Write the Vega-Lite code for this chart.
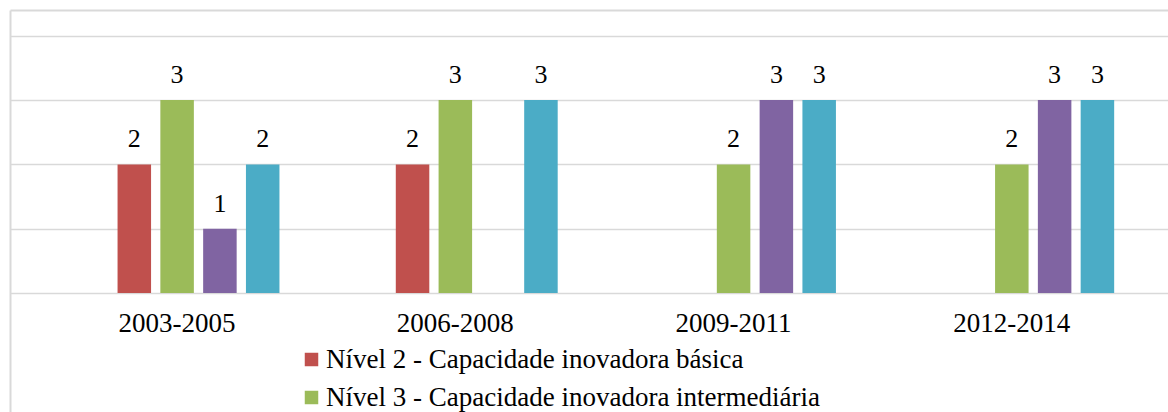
{
  "$schema": "https://vega.github.io/schema/vega-lite/v6.json",
  "width": 1158,
  "height": 402,
  "padding": {"left": 10, "top": 10, "right": 0, "bottom": 0},
  "autosize": {"type": "none"},
  "background": "white",
  "config": {"view": {"stroke": null}, "font": "Liberation Serif"},
  "data": {
    "values": [
      {"periodo": "2003-2005", "nivel": "Nível 2 - Capacidade inovadora básica", "valor": 2},
      {"periodo": "2003-2005", "nivel": "Nível 3 - Capacidade inovadora intermediária", "valor": 3},
      {"periodo": "2003-2005", "nivel": "Nível 4 - Capacidade inovadora avançada", "valor": 1},
      {"periodo": "2003-2005", "nivel": "Nível 5 - Capacidade inovadora plena", "valor": 2},
      {"periodo": "2006-2008", "nivel": "Nível 2 - Capacidade inovadora básica", "valor": 2},
      {"periodo": "2006-2008", "nivel": "Nível 3 - Capacidade inovadora intermediária", "valor": 3},
      {"periodo": "2006-2008", "nivel": "Nível 5 - Capacidade inovadora plena", "valor": 3},
      {"periodo": "2009-2011", "nivel": "Nível 3 - Capacidade inovadora intermediária", "valor": 2},
      {"periodo": "2009-2011", "nivel": "Nível 4 - Capacidade inovadora avançada", "valor": 3},
      {"periodo": "2009-2011", "nivel": "Nível 5 - Capacidade inovadora plena", "valor": 3},
      {"periodo": "2012-2014", "nivel": "Nível 3 - Capacidade inovadora intermediária", "valor": 2},
      {"periodo": "2012-2014", "nivel": "Nível 4 - Capacidade inovadora avançada", "valor": 3},
      {"periodo": "2012-2014", "nivel": "Nível 5 - Capacidade inovadora plena", "valor": 3}
    ]
  },
  "layer": [
    {
      "mark": {"type": "bar"},
      "encoding": {
        "x": {
          "field": "periodo", "type": "nominal", "sort": null,
          "scale": {"domain": ["2003-2005", "2006-2008", "2009-2011", "2012-2014"], "paddingInner": 0.2309, "paddingOuter": 0.1964, "align": 0.55},
          "axis": {"orient": "bottom", "offset": -119, "title": null, "labelAngle": 0, "ticks": false, "domain": false, "grid": false, "labelFont": "Liberation Serif", "labelFontSize": 27, "labelColor": "#000000", "labelPadding": 17}
        },
        "xOffset": {
          "field": "nivel", "type": "nominal",
          "scale": {"domain": ["Nível 1 - Capacidade inovadora inexistente", "Nível 2 - Capacidade inovadora básica", "Nível 3 - Capacidade inovadora intermediária", "Nível 4 - Capacidade inovadora avançada", "Nível 5 - Capacidade inovadora plena"], "paddingInner": 0.217, "paddingOuter": 0.1085}
        },
        "y": {
          "field": "valor", "type": "quantitative",
          "scale": {"domain": [-1.851, 4.401], "nice": false, "zero": false},
          "axis": {"title": null, "labels": false, "ticks": false, "values": [0, 1, 2, 3, 4], "grid": true, "gridColor": "#d9d9d9", "gridWidth": 1.5, "domain": true, "domainColor": "#d9d9d9", "domainWidth": 2}
        },
        "y2": {"datum": 0},
        "color": {
          "field": "nivel", "type": "nominal",
          "scale": {"domain": ["Nível 2 - Capacidade inovadora básica", "Nível 3 - Capacidade inovadora intermediária", "Nível 4 - Capacidade inovadora avançada", "Nível 5 - Capacidade inovadora plena"], "range": ["#C0504D", "#9BBB59", "#8064A2", "#4BACC6"]},
          "legend": {"orient": "none", "legendX": 288, "legendY": 336, "direction": "vertical", "title": null, "padding": 0, "symbolType": "square", "symbolSize": 182, "symbolStrokeWidth": 0, "labelFont": "Liberation Serif", "labelFontSize": 27, "labelColor": "#000000", "labelLimit": 1000, "labelOffset": 1, "rowPadding": 10}
        }
      }
    },
    {
      "mark": {"type": "text", "baseline": "alphabetic", "dy": -17, "fontSize": 26, "font": "Liberation Serif", "color": "#000000"},
      "encoding": {
        "x": {
          "field": "periodo", "type": "nominal", "sort": null,
          "axis": {"orient": "top", "title": null, "labels": false, "ticks": false, "grid": false, "domain": true, "domainColor": "#d9d9d9", "domainWidth": 2}
        },
        "xOffset": {"field": "nivel", "type": "nominal"},
        "y": {"field": "valor", "type": "quantitative"},
        "text": {"field": "valor", "type": "quantitative"}
      }
    }
  ],
  "resolve": {"axis": {"x": "independent"}}
}
